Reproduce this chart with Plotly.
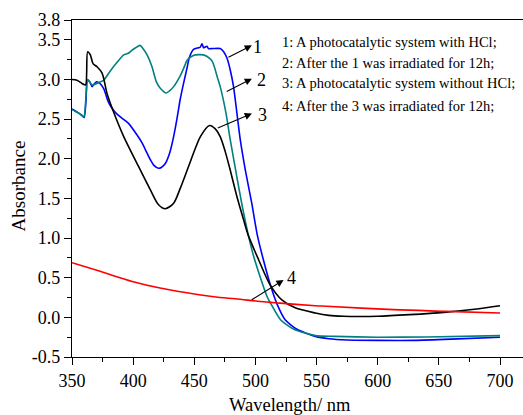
import plotly.graph_objects as go

# Curve 1: photocatalytic system with HCl
wl_1 = [350, 354, 358, 360, 361.5, 362.5, 364.5, 366.4, 368, 370, 372.8, 376, 379.6, 383,
        386.4, 391, 396, 403.2, 407.3, 411.4, 414, 416.8, 420.8, 423, 426.3, 430, 433.1,
        436, 438.6, 441.5, 444, 446, 449.4, 453.5, 455, 456.3, 457.6, 459, 460.4, 461.5,
        465, 471.2, 474, 476.7, 479.4, 482.1, 484.9, 487.6, 491.7, 497, 501.5, 506.6, 512,
        517.6, 524.3, 533.9, 549, 560, 575, 600, 630, 660, 700]
abs_1 = [2.63, 2.59, 2.55, 2.52, 2.75, 3.00, 2.97, 2.91, 2.94, 2.97, 2.95, 2.88, 2.72, 2.63,
         2.57, 2.51, 2.45, 2.30, 2.20, 2.07, 1.99, 1.92, 1.88, 1.89, 1.94, 2.08, 2.28,
         2.52, 2.76, 2.97, 3.14, 3.28, 3.38, 3.40, 3.41, 3.45, 3.40, 3.41, 3.42, 3.39,
         3.39, 3.39, 3.35, 3.27, 3.12, 2.91, 2.57, 2.24, 1.86, 1.44, 1.04, 0.72, 0.42,
         0.17, -0.03, -0.15, -0.24, -0.27, -0.285, -0.29, -0.29, -0.275, -0.25]

# Curve 2: after curve 1 was irradiated for 12 h
wl_2 = [350, 355, 359.6, 361.5, 362.8, 364.5, 366.4, 370.5, 373, 375.9, 381, 386, 392.3,
        396, 399.1, 402, 405.6, 408, 411.4, 415.4, 419, 422.2, 427.1, 430, 433.1,
        438.6, 441.3, 444, 446.7, 450.8, 457.6, 463, 465, 467.2, 469, 471.2, 476, 479.4,
        484, 489, 494, 498, 502.8, 509.6, 512.3, 520.5, 531.4, 549, 565, 600, 640, 700]
abs_2 = [2.62, 2.58, 2.53, 2.80, 3.00, 2.97, 2.93, 2.95, 2.97, 2.99, 3.10, 3.20, 3.31,
         3.33, 3.37, 3.40, 3.43, 3.39, 3.31, 3.16, 2.97, 2.89, 2.83, 2.86, 2.91,
         3.05, 3.14, 3.24, 3.28, 3.31, 3.31, 3.26, 3.22, 3.12, 3.02, 2.91, 2.57, 2.24,
         1.84, 1.42, 1.05, 0.80, 0.56, 0.26, 0.18, -0.03, -0.15, -0.23, -0.24, -0.25, -0.247, -0.23]

# Curve 3: photocatalytic system without HCl
wl_3 = [350, 354, 358.2, 361, 362.8, 365, 367.2, 370.5, 374.6, 378.7, 384, 392.3, 403.2,
        414, 420.8, 426.3, 433.1, 438.6, 446.7, 455, 462.5, 467, 471.2, 475.3, 479, 484.9,
        490.3, 494, 502.5, 512, 521.6, 532.5, 549, 560, 572, 585, 600, 626, 654, 681, 700]
abs_3 = [3.00, 2.99, 2.95, 2.93, 3.35, 3.31, 3.20, 3.16, 3.08, 2.82, 2.59, 2.28, 1.94,
         1.61, 1.42, 1.37, 1.44, 1.63, 1.96, 2.28, 2.42, 2.38, 2.28, 2.09, 1.88, 1.52,
         1.23, 1.04, 0.73, 0.41, 0.22, 0.12, 0.055, 0.025, 0.013, 0.010, 0.013, 0.034, 0.063, 0.106, 0.147]

# Curve 4: after curve 3 was irradiated for 12 h
wl_4 = [350, 373, 400, 422, 444, 471, 483.5, 504, 520, 549, 558, 613, 656, 700]
abs_4 = [0.69, 0.58, 0.45, 0.37, 0.31, 0.25, 0.235, 0.20, 0.18, 0.147, 0.14, 0.097, 0.076, 0.055]

legend_lines = [
    "1: A photocatalytic system with HCl;",
    "2: After the 1 was irradiated for 12h;",
    "3: A photocatalytic system without HCl;",
    "4: After the 3 was irradiated for 12h;",
]

y_ticks = [-0.5, 0.0, 0.5, 1.0, 1.5, 2.0, 2.5, 3.0, 3.5, 3.75]
y_tick_text = ["-0.5", "0.0", "0.5", "1.0", "1.5", "2.0", "2.5", "3.0", "3.5", "3.8"]
x_ticks = [350, 400, 450, 500, 550, 600, 650, 700]

FONT = "Liberation Serif, Times New Roman, serif"

fig = go.Figure()
series = [
    (wl_1, abs_1, "#0000FF", "1", 0.6),
    (wl_2, abs_2, "#008080", "2", 0.6),
    (wl_3, abs_3, "#000000", "3", 0.8),
    (wl_4, abs_4, "#FF0000", "4", 1.0),
]
for xs, ys, color, name, smooth in series:
    fig.add_trace(go.Scatter(x=xs, y=ys, mode="lines", name=name,
                             line=dict(color=color, width=1.6, shape="spline",
                                       smoothing=smooth),
                             showlegend=False))

# Pointer arrows (tail -> head) and curve numbers
arrows = [
    ((476.7, 3.27), (497.1, 3.43), (501.7, 3.41), "1"),
    ((475.3, 2.84), (497.1, 3.01), (504.7, 2.99), "2"),
    ((468.0, 2.38), (497.1, 2.57), (506.1, 2.55), "3"),
    ((495.7, 0.21), (523.0, 0.47), (529.8, 0.50), "4"),
]
for tail, head, lab, txt in arrows:
    fig.add_annotation(x=head[0], y=head[1], ax=tail[0], ay=tail[1],
                       xref="x", yref="y", axref="x", ayref="y",
                       text="", showarrow=True, arrowhead=2, arrowsize=1.3,
                       arrowwidth=1.1, arrowcolor="black", standoff=0)
    fig.add_annotation(x=lab[0], y=lab[1], xref="x", yref="y", text=txt,
                       showarrow=False, xanchor="center", yanchor="middle",
                       font=dict(family=FONT, size=18, color="black"))

legend_y = [0.9349, 0.8738, 0.8118, 0.7454]
for txt, yy in zip(legend_lines, legend_y):
    fig.add_annotation(x=0.4617, y=yy, xref="paper", yref="paper", text=txt,
                       showarrow=False, xanchor="left", yanchor="middle",
                       font=dict(family=FONT, size=14.5, color="black"))

# Axis titles
fig.add_annotation(x=0.484, y=-0.141, xref="paper", yref="paper", text="Wavelength/ nm",
                   showarrow=False, xanchor="center", yanchor="middle",
                   font=dict(family=FONT, size=18.5, color="black"))
fig.add_annotation(x=-0.1165, y=0.5075, xref="paper", yref="paper", text="Absorbance",
                   showarrow=False, xanchor="center", yanchor="middle", textangle=-90,
                   font=dict(family=FONT, size=19, color="black"))

fig.update_layout(
    width=523, height=415,
    margin=dict(l=71.6, r=0, t=19.7, b=57.6),
    paper_bgcolor="white", plot_bgcolor="white",
    font=dict(family=FONT, color="black"),
    xaxis=dict(range=[350, 718.8], tickvals=x_ticks, ticks="outside", ticklen=7,
               tickwidth=1.2, tickcolor="black", showline=True, linecolor="black",
               linewidth=1.4, mirror=True, showgrid=False, zeroline=False,
               tickfont=dict(family=FONT, size=18, color="black"),
               minor=dict(dtick=25, tick0=350, ticks="outside", ticklen=4,
                          tickwidth=1.2, tickcolor="black", showgrid=False)),
    yaxis=dict(range=[-0.5, 3.75], tickvals=y_ticks, ticktext=y_tick_text,
               ticks="outside", ticklen=7, tickwidth=1.2, tickcolor="black",
               showline=True, linecolor="black", linewidth=1.4, mirror=False,
               showgrid=False, zeroline=False,
               tickfont=dict(family=FONT, size=18, color="black"),
               minor=dict(dtick=0.25, tick0=-0.5, ticks="outside", ticklen=4,
                          tickwidth=1.2, tickcolor="black", showgrid=False)),
)

fig.write_html("out.html")
